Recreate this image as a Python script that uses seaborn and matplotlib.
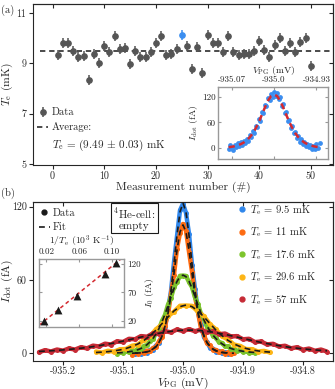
import matplotlib
matplotlib.use('Agg')
import matplotlib.pyplot as plt
import seaborn as sns
from matplotlib.lines import Line2D

# ---- panel (a): electron temperature per measurement ----
meas = list(range(1, 51))
te_mk = [9.33, 9.81, 9.81, 9.50, 9.24, 9.29, 8.34, 9.35, 9.00, 9.68,
         9.44, 10.08, 9.58, 9.62, 8.96, 9.50, 9.26, 9.26, 9.46, 9.81,
         10.09, 9.33, 9.35, 9.56, 10.13, 9.70, 8.78, 9.66, 8.61, 10.12,
         9.79, 9.81, 9.44, 10.08, 9.46, 9.33, 9.35, 9.35, 9.50, 9.88,
         9.52, 9.26, 9.72, 9.99, 9.50, 9.81, 9.46, 9.85, 10.01, 8.90]
te_err = 0.2
te_avg = 9.49
highlight = 25

# inset (a): the sweep of measurement 25
sweep_v = [-935.0750, -935.0725, -935.0700, -935.0675, -935.0650, -935.0625, -935.0600,
           -935.0575, -935.0550, -935.0525, -935.0500, -935.0475, -935.0450, -935.0425,
           -935.0400, -935.0375, -935.0350, -935.0325, -935.0300, -935.0275, -935.0250,
           -935.0225, -935.0200, -935.0175, -935.0150, -935.0125, -935.0100, -935.0075,
           -935.0050, -935.0025, -935.0000, -934.9975, -934.9950, -934.9925, -934.9900,
           -934.9875, -934.9850, -934.9825, -934.9800, -934.9775, -934.9750, -934.9725,
           -934.9700, -934.9675, -934.9650, -934.9625, -934.9600, -934.9575, -934.9550,
           -934.9525, -934.9500, -934.9475, -934.9450, -934.9425, -934.9400, -934.9375,
           -934.9350, -934.9325, -934.9300, -934.9275, -934.9250]
sweep_i = [-1.5, 8.0, 1.2, -3.5, 6.9, 2.0, 11.5, 4.3, 14.0, 7.5, 17.8, 11.2, 21.5, 16.9,
           30.2, 26.4, 39.8, 36.1, 52.3, 49.0, 66.8, 64.2, 83.5, 80.7, 101.2, 97.4, 116.0,
           111.5, 126.3, 119.2, 129.5, 121.0, 127.8, 113.2, 118.6, 99.1, 103.8, 82.2, 84.9,
           63.4, 66.1, 47.5, 52.6, 35.9, 38.7, 24.8, 28.9, 15.3, 20.4, 9.6, 14.8, 5.1, 10.9,
           1.7, 8.3, -2.4, 6.2, -1.1, 9.7, 0.4, 12.0]
sweep_fit = [2.3, 3.3, 4.7, 6.9, 9.5, 13.3, 18.6, 25.7, 35.0, 47.0, 61.5, 78.0, 95.0, 110.3,
             121.1, 125.0, 121.1, 110.3, 95.0, 78.0, 61.5, 47.0, 35.0, 25.7, 18.6, 13.3, 9.5,
             6.9, 4.7, 3.3, 2.3]
inset_a_ticks = [-935.07, -935.0, -934.93]
inset_a_labels = ['-935.07', '-935.0', '-934.93']

# ---- panel (b): Coulomb peaks at several temperatures ----
v_fine = [-935.110, -935.105, -935.100, -935.095, -935.090, -935.085, -935.080, -935.075,
          -935.070, -935.065, -935.060, -935.055, -935.050, -935.045, -935.040, -935.035,
          -935.030, -935.025, -935.020, -935.015, -935.010, -935.005, -935.000, -934.995,
          -934.990, -934.985, -934.980, -934.975, -934.970, -934.965, -934.960, -934.955,
          -934.950, -934.945, -934.940, -934.935, -934.930, -934.925, -934.920, -934.915,
          -934.910, -934.905, -934.900, -934.895, -934.890, -934.885, -934.880]
v_yellow = [-935.145, -935.135, -935.125, -935.115, -935.105, -935.095, -935.085, -935.075,
            -935.065, -935.055, -935.045, -935.035, -935.025, -935.015, -935.005, -934.995,
            -934.985, -934.975, -934.965, -934.955, -934.945, -934.935, -934.925, -934.915,
            -934.905, -934.895, -934.885, -934.875, -934.865, -934.855]
v_red = [-935.24, -935.23, -935.22, -935.21, -935.20, -935.19, -935.18, -935.17, -935.16,
         -935.15, -935.14, -935.13, -935.12, -935.11, -935.10, -935.09, -935.08, -935.07,
         -935.06, -935.05, -935.04, -935.03, -935.02, -935.01, -935.00, -934.99, -934.98,
         -934.97, -934.96, -934.95, -934.94, -934.93, -934.92, -934.91, -934.90, -934.89,
         -934.88, -934.87, -934.86, -934.85, -934.84, -934.83, -934.82, -934.81, -934.80,
         -934.79, -934.78, -934.77, -934.76]

i_blue = [-0.8, 1.1, -0.5, 1.6, 0.4, 2.9, 2.5, 6.4, 8.1, 15.2, 21.4, 35.6, 50.9, 74.6, 95.8,
          116.9, 122.4, 114.8, 97.9, 72.5, 52.6, 33.7, 23.0, 13.2, 9.4, 4.6, 3.9, 1.3, 1.9,
          0.1, 0.9, -0.6, 0.5]
fit_blue = [0.2, 0.3, 0.4, 0.7, 1.2, 2.0, 3.3, 5.3, 8.7, 14.0, 22.2, 34.5, 51.7, 73.4, 96.7,
            115.6, 123.0, 115.6, 96.7, 73.4, 51.7, 34.5, 22.2, 14.0, 8.7, 5.3, 3.3, 2.0, 1.2,
            0.7, 0.4, 0.3, 0.2]
i_orange = [-1.2, 0.9, -0.4, 1.5, 0.2, 2.3, 1.6, 4.4, 5.1, 9.8, 13.1, 22.6, 31.8, 48.5, 64.3,
            85.6, 98.4, 105.8, 100.2, 83.1, 66.7, 46.5, 33.5, 20.6, 14.9, 8.2, 6.5, 2.9, 2.8,
            0.7, 1.6, -0.3, 0.8, -0.9, 0.4]
fit_orange = [0.1, 0.2, 0.3, 0.6, 0.9, 1.4, 2.2, 3.6, 5.8, 9.0, 14.0, 21.5, 32.6, 47.4, 65.5,
              84.4, 99.3, 105.0, 99.3, 84.4, 65.5, 47.4, 32.6, 21.5, 14.0, 9.0, 5.8, 3.6, 2.2,
              1.4, 0.9, 0.6, 0.3, 0.2, 0.1]
i_green = [-0.3, 1.2, 0.2, 1.6, 0.8, 2.4, 1.9, 3.8, 3.5, 6.1, 6.6, 10.2, 11.7, 16.6, 19.8,
           26.5, 31.4, 39.8, 45.5, 53.9, 58.2, 63.4, 63.6, 63.3, 58.3, 54.1, 45.8, 40.1, 32.2,
           28.0, 21.6, 19.0, 14.1, 12.8, 9.0, 8.5, 5.7, 5.8, 3.3, 3.9, 2.0, 2.8, 1.1, 2.0, 0.5,
           1.4, 0.2]
fit_green = [0.4, 0.5, 0.7, 1.0, 1.3, 1.7, 2.3, 3.0, 4.0, 5.4, 7.1, 9.4, 12.2, 15.8, 20.3,
             25.7, 32.0, 38.9, 46.1, 53.0, 58.8, 62.6, 64.0, 62.7, 59.0, 53.3, 46.5, 39.3, 32.9,
             27.2, 22.3, 18.2, 14.8, 12.0, 9.7, 7.8, 6.3, 5.0, 4.0, 3.2, 2.6, 2.1, 1.7, 1.4,
             1.1, 0.9, 0.7]
i_yellow = [1.5, 0.6, 2.1, 1.4, 3.3, 3.6, 6.2, 7.1, 11.2, 13.8, 19.7, 23.6, 30.3, 34.1, 38.9,
            39.1, 38.8, 34.0, 30.4, 23.7, 19.6, 13.9, 11.3, 7.2, 6.1, 3.5, 3.4, 1.5, 2.0, 0.7]
fit_yellow = [0.7, 1.0, 1.4, 2.0, 2.8, 4.0, 5.6, 7.7, 10.6, 14.4, 19.0, 24.3, 29.7, 34.7, 38.2,
              39.5, 38.2, 34.7, 29.7, 24.3, 19.0, 14.4, 10.6, 7.7, 5.6, 4.0, 2.8, 2.0, 1.4, 1.0]
i_red = [0.9, 2.6, 1.5, 3.1, 2.2, 4.0, 3.1, 5.0, 4.1, 6.3, 5.6, 7.9, 7.2, 9.8, 9.3, 11.9, 11.5,
         14.1, 13.6, 16.3, 15.8, 18.1, 17.2, 19.5, 18.2, 19.8, 18.1, 19.4, 17.3, 18.0, 15.7,
         16.2, 13.8, 14.1, 11.5, 11.9, 9.2, 9.7, 7.3, 7.8, 5.6, 6.2, 4.1, 5.0, 3.0, 3.9, 2.1,
         3.1, 1.4]
fit_red = [1.6, 1.8, 2.1, 2.4, 2.8, 3.2, 3.7, 4.2, 4.8, 5.5, 6.3, 7.1, 8.0, 8.9, 10.0, 11.1,
           12.2, 13.3, 14.4, 15.5, 16.4, 17.3, 18.0, 18.6, 18.9, 19.0, 18.9, 18.6, 18.0, 17.3,
           16.4, 15.5, 14.4, 13.3, 12.2, 11.1, 10.0, 8.9, 8.0, 7.1, 6.3, 5.5, 4.8, 4.2, 3.7,
           3.2, 2.8, 2.4, 2.1]

temp_labels = ['9.5', '11', '17.6', '29.6', '57']
colors = ['#2f86eb', '#fd6b12', '#7cc42c', '#fdb515', '#c62a35']

# inset (b): peak amplitude vs inverse temperature
inv_te = [0.0175, 0.0338, 0.0568, 0.0909, 0.1053]
i0 = [20.0, 38.5, 64.0, 102.0, 122.0]
i0_fit_x = [0.011, 0.115]
i0_fit_y = [12.4, 133.3]

sns.set_theme(style='ticks')
plt.rcParams.update({
    'font.family': ['cmr10'],
    'mathtext.fontset': 'cm',
    'axes.unicode_minus': False,
    'axes.linewidth': 0.8,
    'xtick.major.width': 0.8, 'ytick.major.width': 0.8,
    'xtick.major.size': 3, 'ytick.major.size': 3,
    'xtick.labelsize': 7.2, 'ytick.labelsize': 7.2,
    'axes.labelsize': 8.4,
})
FS = 7.6

fig = plt.figure(figsize=(3.35, 3.89), dpi=100)


def inner_ticks(ax, xt, yt):
    top = ax.secondary_xaxis('top')
    top.set_xticks(xt)
    top.tick_params(direction='in', labeltop=False, length=3)
    right = ax.secondary_yaxis('right')
    right.set_yticks(yt)
    right.tick_params(direction='in', labelright=False, length=3)


# ---------- (a) ----------
ax = fig.add_axes([0.0985, 0.5758, 0.8955, 0.4152])
gray = '#555555'
hl = '#3b8ef0'
m_other = [m for m in meas if m != highlight]
t_other = [t for m, t in zip(meas, te_mk) if m != highlight]
m_hl = [m for m in meas if m == highlight]
t_hl = [t for m, t in zip(meas, te_mk) if m == highlight]
eb = ax.errorbar(m_other, t_other, yerr=te_err, fmt='o', color=gray, ms=3.8,
                 elinewidth=1.1, capsize=0, zorder=3)
ax.errorbar(m_hl, t_hl, yerr=te_err, fmt='o', color=hl, ms=3.8,
            elinewidth=1.1, capsize=0, zorder=3)
ax.hlines(te_avg, -2.5, 54, colors='k', linestyles=(0, (3.5, 2.5)), lw=1.1)
ax.set_xlim(-3.8, 54.3)
ax.set_ylim(4.96, 11.37)
ax.set_xticks([0, 10, 20, 30, 40, 50])
ax.set_yticks([5, 7, 9, 11])
ax.tick_params(direction='out', length=3, pad=2)
inner_ticks(ax, [0, 10, 20, 30, 40, 50], [5, 7, 9, 11])
ax.set_xlabel('Measurement number (#)', labelpad=0)
ax.set_ylabel(r'$T_\mathrm{e}$ (mK)', labelpad=1)
h_avg = Line2D([], [], color='k', ls=(0, (3.5, 2.5)), lw=1.1)
ax.legend([eb, h_avg], ['Data', 'Average:'], loc='center left',
          bbox_to_anchor=(0.015, 0.278), frameon=False, fontsize=FS,
          handlelength=1.0, handletextpad=0.3, labelspacing=0.45,
          borderpad=0, borderaxespad=0)
ax.text(0.065, 0.124, r'$T_\mathrm{e}$ = (9.49 $\pm$ 0.03) mK', transform=ax.transAxes,
        fontsize=FS + 0.4, va='center', ha='left')

# inset (a)
axi = fig.add_axes([0.6516, 0.5913, 0.3284, 0.1859])
sns.scatterplot(x=sweep_v, y=sweep_i, color=hl, s=12, linewidth=0, ax=axi, zorder=2)
sns.lineplot(x=sweep_v[::2], y=sweep_fit, color='#d42a30', lw=1.8, ax=axi, zorder=3)
axi.lines[-1].set_dashes([2.5, 1.8])
axi.set_xlim(-935.092, -934.9105)
axi.set_ylim(-25, 143)
axi.xaxis.tick_top()
axi.xaxis.set_label_position('top')
axi.set_xticks(inset_a_ticks)
axi.set_xticklabels(inset_a_labels)
axi.set_yticks([0, 60, 120])
axi.tick_params(direction='in', length=2.5, labelsize=6.5, color='#999999', pad=2,
                top=True, bottom=True, left=True, right=True)
axi.set_xlabel(r'$V_\mathrm{PG}$ (mV)', fontsize=7, labelpad=2)
axi.set_ylabel(r'$I_\mathrm{dot}$ (fA)', fontsize=7, labelpad=1)
for s in axi.spines.values():
    s.set_color('#999999')
    s.set_linewidth(1.0)

# ---------- (b) ----------
bx = fig.add_axes([0.0985, 0.0728, 0.8955, 0.4087])
traces = [
    (v_fine[6:39], i_blue, fit_blue),
    (v_fine[5:40], i_orange, fit_orange),
    (v_fine, i_green, fit_green),
    (v_yellow, i_yellow, fit_yellow),
    (v_red, i_red, fit_red),
]
for (v, i, f), c in zip(traces, colors):
    sns.lineplot(x=v, y=i, color=c, lw=3.2, marker='o', markersize=3.6,
                 markeredgewidth=0, ax=bx, sort=False, zorder=2)
for v, i, f in traces:
    sns.lineplot(x=v, y=f, color='k', lw=1.2, ax=bx, sort=False, zorder=3)
    bx.lines[-1].set_dashes([3.5, 2.5])
bx.set_xlim(-935.25, -934.75)
bx.set_ylim(-6, 124)
bx.set_xticks([-935.2, -935.1, -935.0, -934.9, -934.8])
bx.set_xticklabels(['-935.2', '-935.1', '-935.0', '-934.9', '-934.8'])
bx.set_yticks([0, 60, 120])
bx.tick_params(direction='out', length=3, pad=1.5)
inner_ticks(bx, [-935.2, -935.1, -935.0, -934.9, -934.8], [0, 60, 120])
bx.set_xlabel(r'$V_\mathrm{PG}$ (mV)')
bx.xaxis.set_label_coords(0.5, -0.094)
bx.set_ylabel(r'$I_\mathrm{dot}$ (fA)')
bx.yaxis.set_label_coords(-0.06, 0.5)

h_data = Line2D([], [], color='k', marker='o', ls='none', ms=3.5)
h_fit = Line2D([], [], color='k', ls=(0, (3.5, 2.5)), lw=1.2)
leg1 = bx.legend([h_data, h_fit], ['Data', 'Fit'], loc='center left',
                 bbox_to_anchor=(0.02, 0.882), frameon=False, fontsize=FS,
                 handlelength=1.0, handletextpad=0.3, labelspacing=0.45,
                 borderpad=0, borderaxespad=0)
bx.add_artist(leg1)
h_t = [Line2D([], [], color=c, marker='o', ls='none', ms=3.5) for c in colors]
bx.legend(h_t, [r'$T_\mathrm{e}$ = ' + t + ' mK' for t in temp_labels], loc='center left',
          bbox_to_anchor=(0.683, 0.665), frameon=False, fontsize=FS,
          handlelength=0.7, handletextpad=0.4, labelspacing=0.82,
          borderpad=0, borderaxespad=0)
bx.text(0.338, 0.895, '$^4$He-cell:\nempty', transform=bx.transAxes, fontsize=8.0,
        ha='center', va='center', linespacing=1.05,
        bbox=dict(boxstyle='square,pad=0.25', fc='white', ec='k', lw=0.8))

# inset (b)
bxi = fig.add_axes([0.1164, 0.1602, 0.2546, 0.1733])
sns.lineplot(x=i0_fit_x, y=i0_fit_y, color='#d42a30', lw=1.1, ax=bxi, zorder=2)
bxi.lines[-1].set_dashes([2.5, 2])
sns.scatterplot(x=inv_te, y=i0, color='k', marker='^', s=32, linewidth=0, ax=bxi, zorder=3)
bxi.set_xlim(0.011, 0.115)
bxi.set_ylim(10, 128)
bxi.xaxis.tick_top()
bxi.xaxis.set_label_position('top')
bxi.yaxis.tick_right()
bxi.yaxis.set_label_position('right')
bxi.set_xticks([0.02, 0.06, 0.10])
bxi.set_xticklabels(['0.02', '0.06', '0.10'])
bxi.set_yticks([20, 70, 120])
bxi.tick_params(direction='in', length=2.5, labelsize=6.5, color='#999999', pad=2,
                top=True, bottom=True, left=True, right=True)
bxi.set_xlabel(r'$1/T_\mathrm{e}$ (10$^3$ K$^{-1}$)', fontsize=7, labelpad=3)
bxi.set_ylabel(r'$I_0$ (fA)', fontsize=7, labelpad=2)
for s in bxi.spines.values():
    s.set_color('#999999')
    s.set_linewidth(1.0)

fig.text(0.003, 0.974, '(a)', fontsize=FS, va='center')
fig.text(0.003, 0.504, '(b)', fontsize=FS, va='center')

fig.savefig('out.png', dpi=100)
